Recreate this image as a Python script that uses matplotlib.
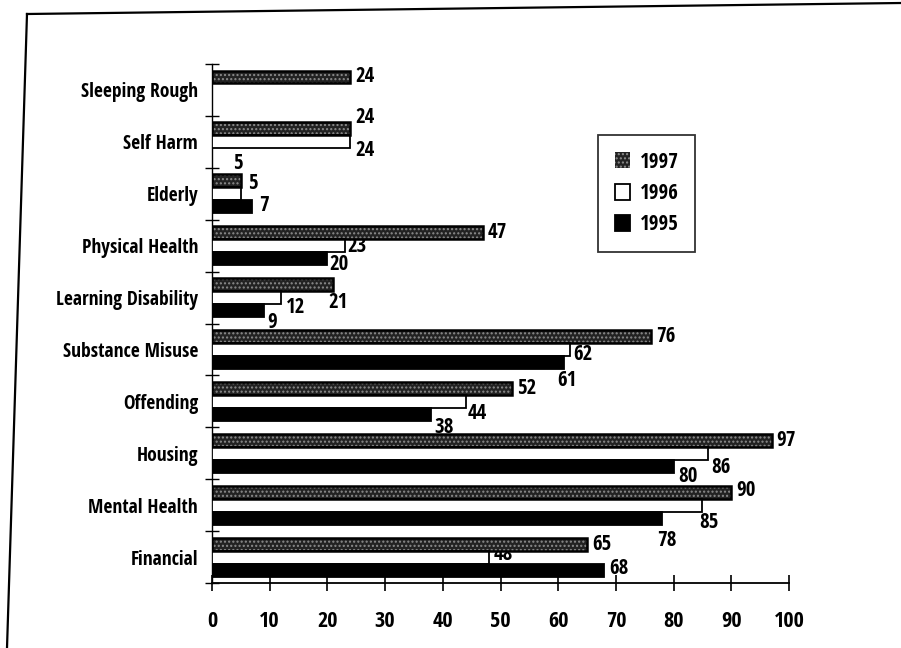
import numpy as np
import matplotlib
matplotlib.use("Agg")
import matplotlib.pyplot as plt
from matplotlib.lines import Line2D

plt.rcParams['font.family'] = ['Open Sans Condensed', 'Liberation Sans', 'DejaVu Sans']
plt.rcParams['font.weight'] = 'bold'

# categories from top to bottom
categories = ["Sleeping Rough", "Self Harm", "Elderly", "Physical Health",
              "Learning Disability", "Substance Misuse", "Offending",
              "Housing", "Mental Health", "Financial"]
years = ["1997", "1996", "1995"]
vals_1997 = [24, 24, 5, 47, 21, 76, 52, 97, 90, 65]
vals_1996 = [None, 24, 5, 23, 12, 62, 44, 86, 85, 48]
vals_1995 = [None, None, 7, 20, 9, 61, 38, 80, 78, 68]
x_ticks = [0, 10, 20, 30, 40, 50, 60, 70, 80, 90, 100]

# label nudges in pixels (right, down) from the end of each bar
nudge_1997 = [(5, 0), (5, -11), (-8, -17), (4, 0), (-5, 18),
              (6, 0), (5, 0), (5, 0), (5, -2), (5, 0)]
nudge_1996 = [None, (5, 9), (7, -10), (3, 1), (5, 10),
              (4, 5), (2, 12), (3, 14), (-3, 17), (5, -3)]
nudge_1995 = [None, None, (7, -1), (2, 6), (3, 12),
              (-7, 18), (3, 13), (5, 10), (-5, 22), (5, -2)]

fig = plt.figure(figsize=(9.01, 6.48), dpi=100)
fig.patch.set_facecolor("white")
ax = fig.add_axes([0.2353, 0.1003, 0.6404, 0.8009])

n = len(categories)
ypos = np.arange(n)[::-1]  # top category gets the highest y
bh = 0.25

series = [
    (vals_1997, nudge_1997, bh, dict(facecolor="#222222", hatch="....")),
    (vals_1996, nudge_1996, 0.0, dict(facecolor="white", hatch=None)),
    (vals_1995, nudge_1995, -bh, dict(facecolor="black", hatch=None)),
]

handles = []
for (vals, nudges, off, style), year in zip(series, years):
    for y, v, nd in zip(ypos, vals, nudges):
        if v is None:
            continue
        if style["hatch"]:
            # speckled fill first, then a crisp outline on top
            ax.barh(y + off, v, height=bh, color=style["facecolor"],
                    edgecolor="#8c8c8c", hatch=style["hatch"], linewidth=0, zorder=3)
            ax.barh(y + off, v, height=bh, fill=False, edgecolor="black",
                    linewidth=1.8, zorder=4)
        else:
            ax.barh(y + off, v, height=bh, color=style["facecolor"],
                    edgecolor="black", linewidth=1.3, zorder=3)
        ax.annotate(str(v), xy=(v, y + off), xytext=(nd[0], -nd[1]),
                    textcoords="offset pixels", ha="left", va="center",
                    fontsize=15, fontweight="bold", zorder=2)
    if style["hatch"]:
        h = ax.barh([np.nan], [np.nan], color=style["facecolor"], edgecolor="#8c8c8c",
                    hatch=style["hatch"], linewidth=0)
    else:
        h = ax.barh([np.nan], [np.nan], color=style["facecolor"], edgecolor="black",
                    linewidth=1.3)
    handles.append(h)

ax.set_xlim(0, 100)
ax.set_ylim(-0.5, n - 0.5)
ax.set_xticks(x_ticks)
ax.set_xticklabels([str(t) for t in x_ticks], fontsize=16, fontweight="bold")
ax.set_yticks(ypos)
ax.set_yticklabels(categories, fontsize=14, fontweight="bold")
ax.set_yticks(np.arange(n + 1) - 0.5, minor=True)

ax.tick_params(axis="y", which="major", length=0, pad=10)
ax.tick_params(axis="y", which="minor", direction="inout", length=10, width=1)
ax.tick_params(axis="x", direction="inout", length=12, width=1.2, pad=14)

for side in ["top", "right"]:
    ax.spines[side].set_visible(False)
ax.spines["left"].set_linewidth(1.0)
ax.spines["bottom"].set_linewidth(1.3)

leg = ax.legend(handles, years, loc="upper left",
                bbox_to_anchor=(598 / 901, 1 - 135 / 648),
                bbox_transform=fig.transFigure, frameon=True, fancybox=False,
                prop={"size": 15, "weight": "bold"}, handlelength=0.75,
                handleheight=0.8, handletextpad=0.45, labelspacing=0.5,
                borderpad=0.8, borderaxespad=0)
leg.get_frame().set_edgecolor("black")
leg.get_frame().set_linewidth(1.3)

# page border
fig.add_artist(Line2D([27 / 901, 7 / 901], [1 - 14 / 648, 0],
                      transform=fig.transFigure, color="black", linewidth=1.6))
fig.add_artist(Line2D([27 / 901, 1.0], [1 - 14 / 648, 1 - 3 / 648],
                      transform=fig.transFigure, color="black", linewidth=1.6))

fig.savefig("out.png", dpi=100, facecolor="white")
